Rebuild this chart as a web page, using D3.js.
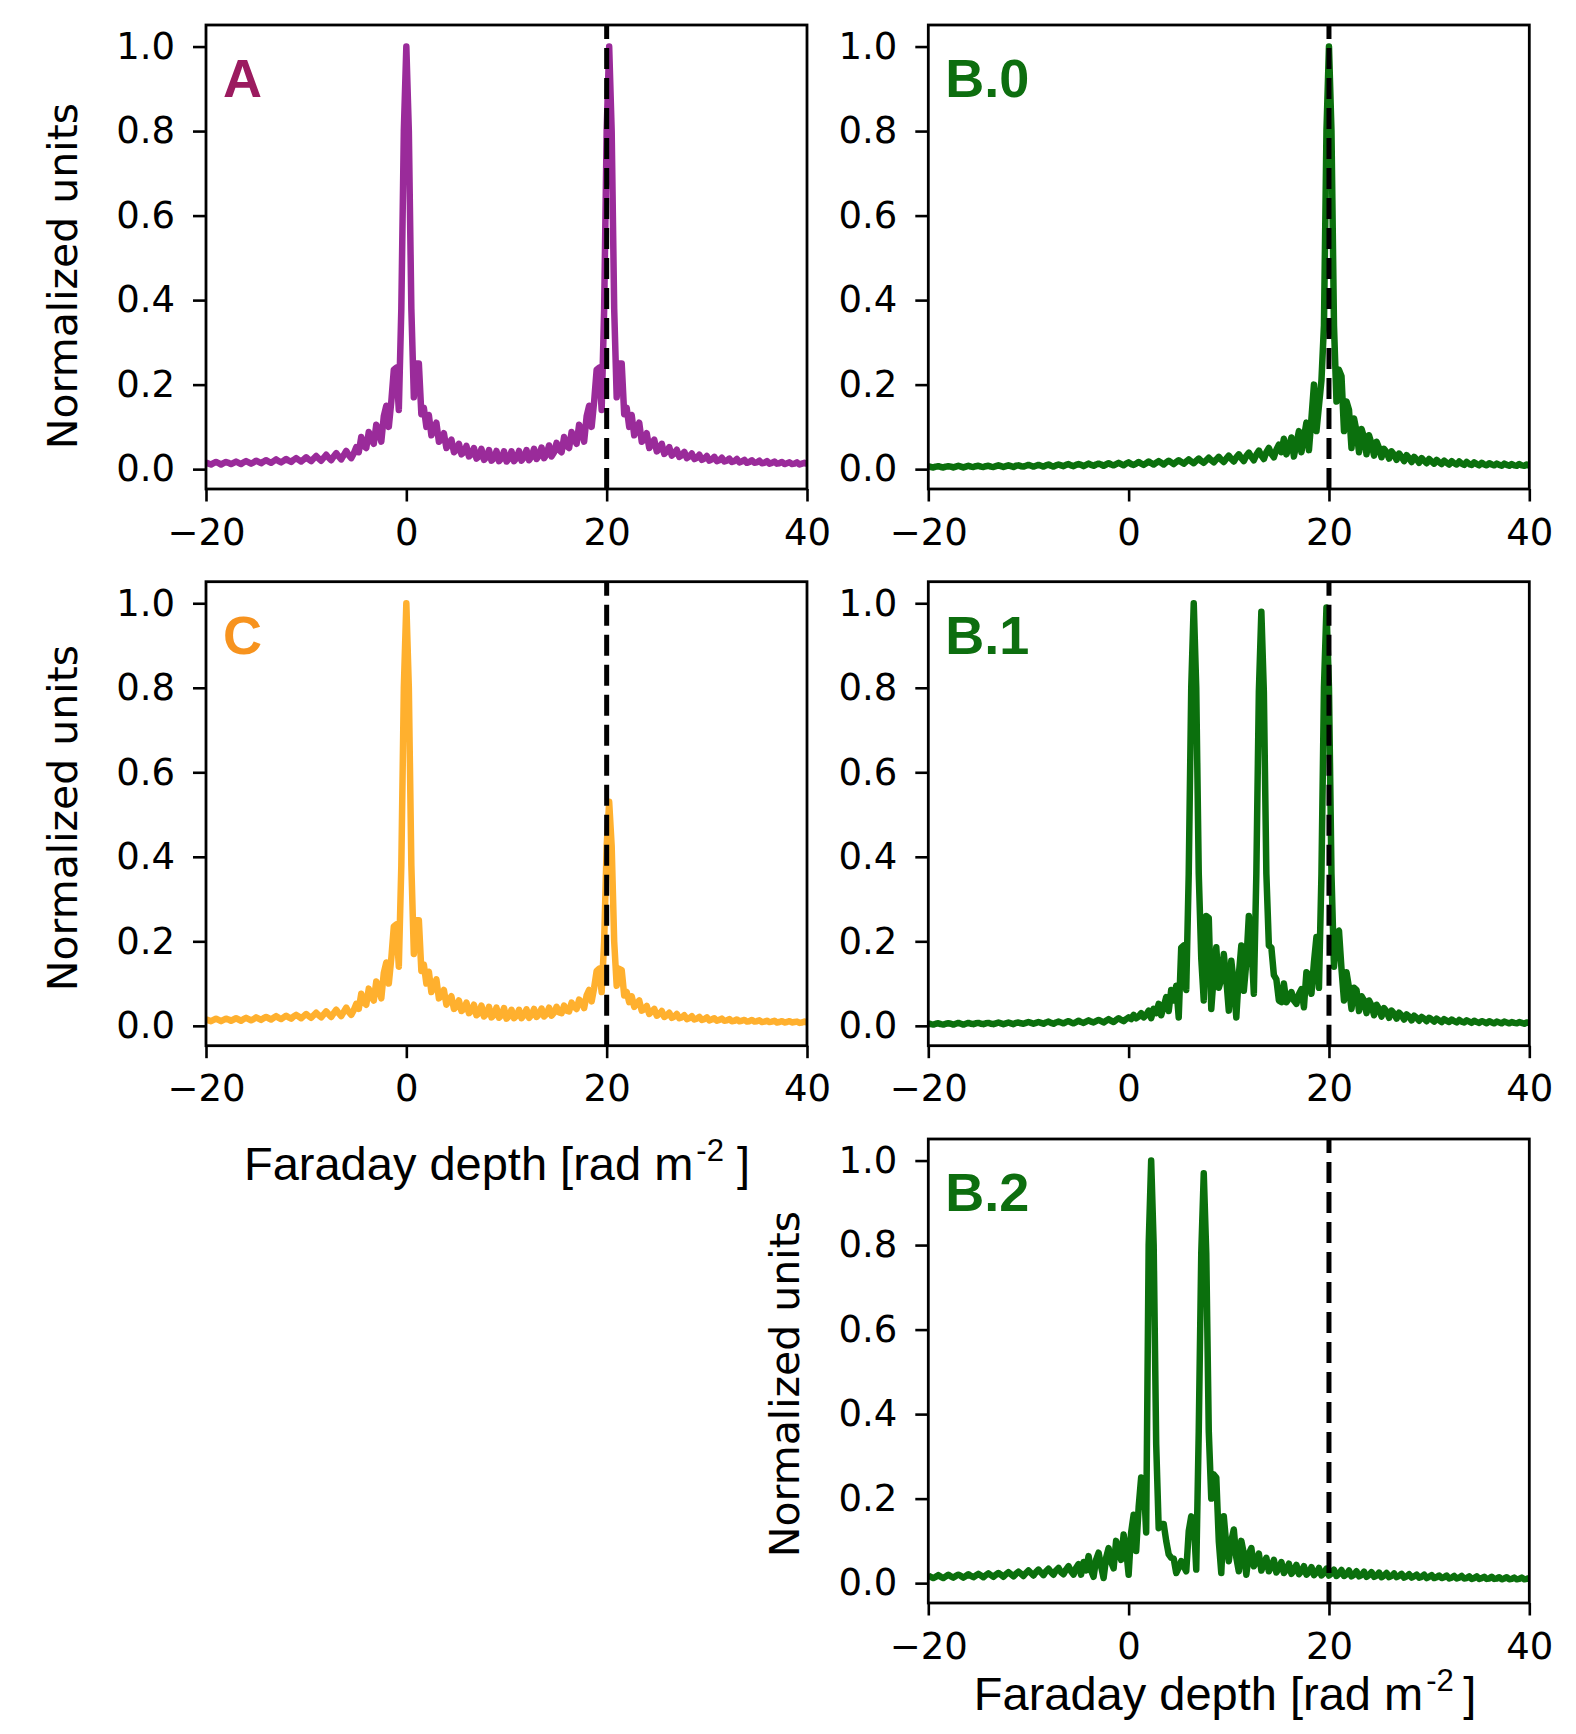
<!DOCTYPE html>
<html>
<head>
<meta charset="utf-8">
<script src="https://cdn.jsdelivr.net/npm/d3@7"></script>
<style>
  body { margin: 0; background: #fff; }
  svg { display: block; }
</style>
</head>
<body>
<div class="area"></div>
<script>
// Faraday depth sampling shared by every spectrum (-20 .. 40)
var phiStart = -20, phiStep = 0.25;

var xTicks = [-20, 0, 20, 40];
var yTicks = [0, 0.2, 0.4, 0.6, 0.8, 1.0];
var markerPhi = 20;

var panelNames = ["A", "B.0", "C", "B.1", "B.2"];

// normalized amplitude, one value per phi sample, rows of 5 rad m^-2
var ampA = [
  .016,.013,.011,.014, .017,.014,.011,.014, .017,.015,.012,.015, .018,.015,.012,.016, .019,.016,.013,.016,
  .020,.017,.014,.018, .021,.018,.015,.019, .023,.019,.016,.020, .024,.020,.017,.022, .026,.022,.018,.023,
  .028,.023,.019,.025, .031,.025,.020,.027, .034,.027,.021,.030, .038,.030,.023,.033, .043,.033,.026,.037,
  .052,.040,.076,.055, .050,.088,.070,.060, .105,.090,.065,.125, .150,.100,.160,.235, .240,.140,.380,.800,
  1.00,.800,.380,.170, .250,.250,.130,.145, .100,.128,.080,.095, .110,.065,.070,.085, .050,.060,.070,.040,
  .045,.060,.035,.040, .055,.030,.035,.050, .025,.030,.048,.022, .028,.045,.020,.026, .043,.019,.025,.042,
  .018,.025,.042,.019, .026,.043,.020,.028, .045,.021,.030,.048, .024,.032,.051,.026, .035,.056,.030,.040,
  .062,.045,.040,.076, .055,.050,.088,.070, .060,.105,.090,.065, .125,.150,.100,.160, .235,.240,.140,.380,
  .800,1.00,.800,.380, .170,.250,.250,.130, .145,.100,.128,.080, .095,.110,.065,.070, .085,.050,.060,.070,
  .042,.048,.060,.036, .042,.052,.032,.037, .046,.029,.033,.041, .026,.030,.037,.024, .027,.034,.022,.025,
  .031,.020,.023,.029, .019,.021,.027,.018, .020,.025,.017,.019, .024,.016,.018,.022, .015,.017,.021,.015,
  .016,.020,.014,.015, .019,.013,.015,.018, .013,.014,.017,.012, .014,.016,.012,.013, .016,.011,.013,.015,
  .012
];

var ampB0 = [
  .007,.005,.004,.006, .007,.005,.004,.006, .007,.006,.004,.006, .008,.006,.004,.006, .008,.006,.005,.007,
  .008,.006,.005,.007, .008,.006,.005,.007, .009,.007,.005,.007, .009,.007,.005,.008, .009,.007,.006,.008,
  .010,.008,.006,.008, .010,.008,.006,.009, .011,.008,.006,.009, .011,.009,.007,.010, .012,.009,.007,.010,
  .012,.010,.007,.010, .013,.010,.008,.011, .013,.011,.008,.011, .014,.011,.009,.012, .015,.012,.009,.013,
  .016,.012,.010,.013, .017,.013,.010,.014, .018,.014,.011,.015, .019,.015,.011,.016, .020,.016,.012,.017,
  .021,.017,.013,.018, .023,.018,.014,.020, .025,.019,.015,.021, .027,.021,.016,.023, .029,.022,.017,.025,
  .032,.024,.018,.028, .035,.026,.019,.031, .039,.029,.021,.034, .044,.032,.024,.040, .050,.036,.028,.046,
  .058,.040,.072,.035, .050,.075,.030,.060, .090,.040,.075,.110, .045,.120,.200,.090, .150,.210,.340,.800,
  1.00,.800,.340,.160, .235,.220,.090,.160, .140,.050,.120,.090, .040,.095,.075,.035, .080,.060,.032,.065,
  .050,.028,.048,.040, .025,.042,.034,.022, .037,.029,.019,.033, .026,.017,.029,.023, .015,.026,.020,.014,
  .024,.018,.013,.022, .016,.012,.020,.015, .011,.019,.014,.011, .018,.013,.010,.017, .012,.010,.016,.012,
  .009,.015,.011,.009, .014,.011,.009,.013, .010,.008,.013,.010, .008,.012,.009,.008, .012,.009,.008,.011,
  .009
];

var ampC = [
  .016,.013,.011,.014, .017,.014,.011,.014, .017,.015,.012,.015, .018,.015,.012,.016, .019,.016,.013,.016,
  .020,.017,.014,.018, .021,.018,.015,.019, .023,.019,.016,.020, .024,.020,.017,.022, .026,.022,.018,.023,
  .028,.023,.019,.025, .031,.025,.020,.027, .034,.027,.021,.030, .038,.030,.023,.033, .043,.033,.026,.037,
  .052,.040,.076,.055, .050,.088,.070,.060, .105,.090,.065,.125, .150,.100,.160,.235, .240,.140,.380,.800,
  1.00,.800,.380,.170, .250,.250,.130,.145, .100,.128,.080,.095, .110,.065,.070,.085, .050,.060,.070,.040,
  .045,.060,.035,.040, .055,.030,.035,.050, .025,.030,.048,.022, .028,.045,.020,.026, .043,.019,.025,.042,
  .017,.023,.038,.018, .024,.038,.018,.025, .039,.019,.026,.040, .021,.027,.041,.022, .028,.043,.024,.031,
  .045,.032,.030,.048, .036,.034,.055,.045, .040,.062,.055,.042, .072,.085,.058,.090, .130,.135,.080,.200,
  .425,.530,.425,.200, .095,.135,.132,.072, .080,.056,.070,.045, .052,.060,.036,.039, .047,.028,.034,.040,
  .024,.028,.035,.021, .025,.031,.019,.022, .028,.018,.020,.025, .016,.018,.023,.015, .017,.021,.014,.016,
  .020,.013,.015,.018, .012,.014,.017,.012, .013,.016,.011,.012, .015,.011,.012,.014, .010,.011,.014,.010,
  .011,.013,.009,.010, .012,.009,.010,.012, .008,.009,.011,.008, .009,.011,.008,.009, .010,.007,.008,.010,
  .008
];

var ampB1 = [
  .006,.004,.003,.005, .006,.004,.003,.005, .006,.005,.003,.005, .007,.005,.003,.005, .007,.005,.004,.006,
  .007,.005,.004,.006, .007,.005,.004,.006, .008,.006,.004,.006, .008,.006,.004,.007, .008,.006,.005,.007,
  .009,.007,.005,.007, .009,.007,.005,.008, .010,.007,.005,.008, .010,.008,.006,.009, .011,.008,.006,.009,
  .012,.009,.007,.010, .013,.010,.008,.011, .014,.011,.008,.012, .016,.012,.009,.014, .018,.014,.011,.016,
  .020,.016,.026,.018, .022,.030,.020,.026, .036,.018,.040,.030, .052,.025,.045,.068, .035,.085,.060,.095,
  .020,.185,.190,.085, .360,.800,1.00,.800, .360,.160,.060,.260, .255,.040,.120,.186, .090,.110,.170,.110,
  .036,.154,.100,.020, .120,.190,.083,.150, .260,.200,.076,.360, .790,.980,.790,.360, .190,.185,.120,.110,
  .060,.056,.100,.056, .065,.080,.060,.052, .075,.087,.044,.127, .120,.076,.150,.210, .090,.360,.800,.990,
  .800,.360,.140,.220, .225,.135,.060,.127, .090,.040,.090,.085, .035,.070,.060,.030, .060,.048,.025,.050,
  .040,.022,.042,.034, .019,.036,.029,.017, .031,.025,.015,.027, .022,.013,.024,.019, .012,.021,.017,.011,
  .019,.015,.010,.017, .013,.009,.016,.012, .009,.015,.011,.008, .014,.010,.008,.013, .010,.007,.012,.009,
  .007,.011,.009,.006, .011,.008,.006,.010, .008,.006,.010,.008, .006,.009,.007,.006, .009,.007,.005,.008,
  .007
];

var ampB2 = [
  .018,.015,.012,.015, .019,.015,.012,.016, .020,.016,.013,.017, .020,.017,.013,.017, .021,.017,.014,.018,
  .022,.018,.014,.019, .023,.019,.015,.020, .024,.020,.015,.021, .026,.021,.016,.022, .027,.022,.017,.024,
  .030,.024,.018,.026, .032,.025,.019,.028, .034,.026,.020,.030, .036,.026,.021,.032, .040,.028,.020,.036,
  .045,.020,.050,.030, .064,.030,.015,.055, .072,.040,.012,.060, .083,.050,.035,.100, .080,.055,.115,.080,
  .020,.120,.162,.076, .180,.250,.245,.120, .800,1.00,.800,.330, .130,.140,.140,.100, .068,.060,.058,.024,
  .036,.052,.040,.028, .123,.158,.150,.032, .360,.780,.970,.780, .360,.200,.257,.250, .100,.024,.158,.090,
  .052,.100,.127,.060, .028,.100,.070,.020, .070,.083,.040,.052, .070,.030,.045,.060, .028,.040,.055,.025,
  .036,.050,.024,.032, .046,.022,.030,.043, .021,.028,.040,.020, .026,.038,.019,.025, .036,.018,.024,.034,
  .018,.023,.032,.017, .022,.031,.017,.021, .030,.016,.020,.028, .016,.019,.027,.015, .019,.026,.015,.018,
  .025,.014,.018,.024, .014,.017,.023,.014, .017,.022,.013,.016, .021,.013,.016,.020, .013,.015,.020,.012,
  .015,.019,.012,.014, .018,.012,.014,.018, .011,.013,.017,.011, .013,.017,.011,.012, .016,.010,.012,.016,
  .010,.012,.015,.010, .011,.015,.010,.011, .014,.009,.011,.014, .009,.010,.013,.009, .010,.013,.009,.010,
  .012
];

var W = 1576, H = 1734;
var colX = [206, 928.3], rowY = [25, 581.7, 1139];
var pw = 601, ph = 464;

var green = "#0b700d", greenTag = "#0d6e0f";
var panels = [
  {name: panelNames[0], amp: ampA,  col: 0, row: 0, line: "#9a2b9a", tag: "#9b1b5f", yLab: 276},
  {name: panelNames[1], amp: ampB0, col: 1, row: 0, line: green, tag: greenTag},
  {name: panelNames[2], amp: ampC,  col: 0, row: 1, line: "#ffb02e", tag: "#f7931e", yLab: 818,
   xLab: {x: 497, y: 1180, gap: " ]"}},
  {name: panelNames[3], amp: ampB1, col: 1, row: 1, line: green, tag: greenTag},
  {name: panelNames[4], amp: ampB2, col: 1, row: 2, line: green, tag: greenTag, yLab: 1384,
   xLab: {x: 1225, y: 1710, gap: "\u2009]"}}
];

var svg = d3.select(".area")
  .append("svg")
    .attr("width", W)
    .attr("height", H);

var x = d3.scaleLinear().domain([-20, 40]).range([0, pw]);
var y = d3.scaleLinear().domain([-0.047, 1.051]).range([ph, 0]);

panels.forEach(function(p, k) {
  var left = colX[p.col], top = rowY[p.row];
  var g = svg.append("g")
    .attr("transform", "translate(" + left + "," + top + ")");

  g.append("clipPath").attr("id", "clip" + k)
    .append("rect").attr("width", pw).attr("height", ph);

  // spectrum
  g.append("path")
    .datum(p.amp)
    .attr("clip-path", "url(#clip" + k + ")")
    .attr("fill", "none")
    .attr("stroke", p.line)
    .attr("stroke-width", 6.5)
    .attr("stroke-linejoin", "round")
    .attr("d", d3.line()
      .x(function(d, i) { return x(phiStart + i * phiStep); })
      .y(function(d) { return y(d); }));

  // reference depth
  g.append("line")
    .attr("x1", x(markerPhi)).attr("x2", x(markerPhi))
    .attr("y1", ph).attr("y2", 0)
    .attr("stroke", "#000")
    .attr("stroke-width", 5)
    .attr("stroke-dasharray", "21,9");

  // axes
  var ya = g.append("g")
    .call(d3.axisLeft(y).tickValues(yTicks).tickFormat(d3.format(".1f"))
      .tickSize(13).tickPadding(18));
  var xa = g.append("g")
    .attr("transform", "translate(0," + ph + ")")
    .call(d3.axisBottom(x).tickValues(xTicks).tickFormat(d3.format("d"))
      .tickSize(12.5).tickPadding(17));
  [ya, xa].forEach(function(a) {
    a.select(".domain").remove();
    a.attr("font-size", 37).attr("font-family", "DejaVu Sans");
    a.selectAll("line").attr("stroke", "#000").attr("stroke-width", 2.6);
    a.selectAll("text").attr("fill", "#000");
  });

  g.append("rect")
    .attr("width", pw).attr("height", ph)
    .attr("fill", "none")
    .attr("stroke", "#000")
    .attr("stroke-width", 2.8);

  // panel tag
  g.append("text")
    .attr("x", 17).attr("y", 72)
    .attr("font-family", "Liberation Sans, Arial, sans-serif")
    .attr("font-weight", "bold")
    .attr("font-size", 54)
    .attr("fill", p.tag)
    .text(p.name);

  if (p.yLab) {
    svg.append("text")
      .attr("transform", "translate(" + (left - 129) + "," + p.yLab + ") rotate(-90)")
      .attr("text-anchor", "middle")
      .attr("font-family", "DejaVu Sans")
      .attr("font-size", 41)
      .text("Normalized units");
  }

  if (p.xLab) {
    var t = svg.append("text")
      .attr("x", p.xLab.x).attr("y", p.xLab.y)
      .attr("text-anchor", "middle")
      .attr("font-family", "Liberation Sans, Arial, sans-serif")
      .attr("font-size", 47);
    t.append("tspan").text("Faraday depth [rad m");
    t.append("tspan").attr("dx", 3).attr("dy", -19).attr("font-size", 31).text("-2");
    t.append("tspan").attr("dy", 19).text(p.xLab.gap);
  }
});
</script>
</body>
</html>
